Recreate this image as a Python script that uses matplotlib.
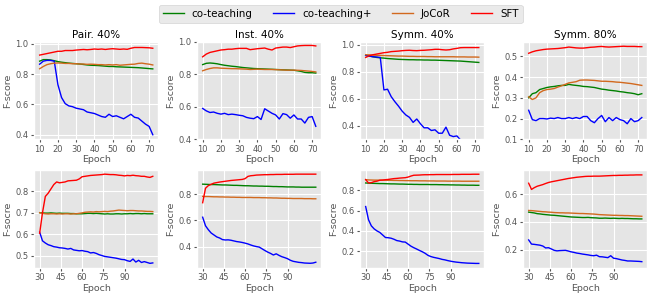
import numpy as np
import matplotlib
matplotlib.use('Agg')
import matplotlib.pyplot as plt

plt.style.use('ggplot')

# epochs
epochs_top = np.arange(10, 73, 2)
epochs_bot = np.arange(30, 111, 2)

methods = ['co-teaching', 'co-teaching+', 'JoCoR', 'SFT']
method_colors = ['green', 'blue', 'chocolate', 'red']

titles_top = ['Pair. 40%', 'Inst. 40%', 'Symm. 40%', 'Symm. 80%']

# ---- top row ----
pair_cot = [0.885, 0.895, 0.895, 0.893, 0.888, 0.882, 0.878, 0.875, 0.872, 0.87, 0.868, 0.866, 0.863, 0.86, 0.858, 0.857,
            0.856, 0.854, 0.852, 0.85, 0.85, 0.848, 0.847, 0.846, 0.845, 0.844, 0.843, 0.842, 0.84, 0.838, 0.836, 0.834]
pair_cotp = [0.865, 0.885, 0.89, 0.89, 0.885, 0.73, 0.645, 0.605, 0.59, 0.585, 0.575, 0.57, 0.565, 0.55, 0.545, 0.54,
             0.53, 0.52, 0.515, 0.535, 0.52, 0.525, 0.515, 0.505, 0.52, 0.535, 0.515, 0.51, 0.49, 0.47, 0.455, 0.40]
pair_jocor = [0.835, 0.85, 0.862, 0.868, 0.872, 0.873, 0.872, 0.87, 0.87, 0.868, 0.868, 0.866, 0.866, 0.864, 0.865, 0.864,
              0.862, 0.862, 0.86, 0.862, 0.86, 0.862, 0.858, 0.86, 0.862, 0.864, 0.865, 0.87, 0.872, 0.868, 0.865, 0.86]
pair_sft = [0.925, 0.93, 0.935, 0.94, 0.945, 0.95, 0.95, 0.955, 0.955, 0.955, 0.958, 0.96, 0.962, 0.96, 0.962, 0.965,
            0.963, 0.965, 0.962, 0.965, 0.967, 0.965, 0.963, 0.965, 0.963, 0.97, 0.975, 0.975, 0.975, 0.974, 0.973, 0.97]

inst_cot = [0.86, 0.868, 0.87, 0.868, 0.865, 0.86, 0.856, 0.853, 0.85, 0.848, 0.845, 0.842, 0.84, 0.838, 0.836, 0.835,
            0.834, 0.833, 0.832, 0.831, 0.83, 0.829, 0.828, 0.827, 0.826, 0.825, 0.822, 0.818, 0.812, 0.81, 0.81, 0.808]
inst_cotp = [0.59, 0.575, 0.565, 0.568, 0.56, 0.555, 0.56, 0.552, 0.555, 0.552, 0.548, 0.545, 0.535, 0.53, 0.527, 0.54,
             0.522, 0.588, 0.574, 0.56, 0.55, 0.525, 0.558, 0.552, 0.53, 0.55, 0.525, 0.525, 0.5, 0.535, 0.54, 0.48]
inst_jocor = [0.822, 0.83, 0.836, 0.84, 0.84, 0.838, 0.837, 0.836, 0.835, 0.835, 0.834, 0.833, 0.832, 0.83, 0.831, 0.832,
              0.831, 0.83, 0.83, 0.83, 0.829, 0.828, 0.827, 0.826, 0.826, 0.826, 0.825, 0.824, 0.822, 0.82, 0.818, 0.815]
inst_sft = [0.908, 0.925, 0.935, 0.94, 0.945, 0.95, 0.952, 0.955, 0.955, 0.958, 0.96, 0.96, 0.96, 0.952, 0.955, 0.958,
            0.96, 0.962, 0.955, 0.95, 0.962, 0.965, 0.968, 0.968, 0.965, 0.97, 0.975, 0.977, 0.978, 0.978, 0.978, 0.975]

sym40_cot = [0.92, 0.915, 0.91, 0.905, 0.902, 0.9, 0.897, 0.895, 0.893, 0.891, 0.89, 0.889, 0.888, 0.888, 0.887, 0.887,
             0.886, 0.886, 0.885, 0.885, 0.884, 0.883, 0.882, 0.881, 0.88, 0.879, 0.878, 0.876, 0.874, 0.872, 0.87, 0.868]
sym40_cotp = [0.92, 0.915, 0.91, 0.908, 0.905, 0.665, 0.67, 0.615, 0.578, 0.545, 0.508, 0.48, 0.462, 0.425, 0.45, 0.415,
              0.385, 0.385, 0.365, 0.37, 0.345, 0.345, 0.39, 0.33, 0.32, 0.325, 0.295, 0.29, 0.285, 0.28, 0.275, 0.27]
sym40_jocor = [0.925, 0.924, 0.922, 0.921, 0.92, 0.919, 0.918, 0.917, 0.916, 0.915, 0.915, 0.914, 0.913, 0.913, 0.912, 0.912,
               0.912, 0.911, 0.911, 0.91, 0.91, 0.91, 0.91, 0.91, 0.91, 0.909, 0.909, 0.909, 0.908, 0.908, 0.908, 0.907]
sym40_sft = [0.905, 0.918, 0.925, 0.93, 0.935, 0.94, 0.943, 0.948, 0.95, 0.952, 0.955, 0.957, 0.958, 0.956, 0.955, 0.957,
             0.958, 0.96, 0.962, 0.965, 0.965, 0.962, 0.96, 0.962, 0.968, 0.972, 0.977, 0.978, 0.978, 0.978, 0.978, 0.978]

sym80_cot = [0.3, 0.32, 0.325, 0.34, 0.345, 0.35, 0.353, 0.355, 0.358, 0.36, 0.36, 0.365, 0.362, 0.36, 0.358, 0.355,
             0.354, 0.352, 0.35, 0.346, 0.342, 0.34, 0.337, 0.335, 0.333, 0.33, 0.328, 0.325, 0.323, 0.32, 0.315, 0.32]
sym80_cotp = [0.24, 0.195, 0.19, 0.2, 0.2, 0.198, 0.202, 0.2, 0.205, 0.2, 0.2, 0.205, 0.2, 0.205, 0.2, 0.21,
              0.21, 0.19, 0.18, 0.2, 0.215, 0.185, 0.205, 0.19, 0.205, 0.195, 0.19, 0.175, 0.2, 0.185, 0.19, 0.205]
sym80_jocor = [0.305, 0.292, 0.3, 0.325, 0.335, 0.34, 0.342, 0.345, 0.352, 0.358, 0.365, 0.372, 0.375, 0.378, 0.385, 0.386,
               0.386, 0.385, 0.384, 0.382, 0.38, 0.38, 0.379, 0.378, 0.376, 0.375, 0.373, 0.371, 0.369, 0.366, 0.363, 0.36]
sym80_sft = [0.515, 0.522, 0.527, 0.53, 0.533, 0.535, 0.536, 0.537, 0.538, 0.54, 0.542, 0.545, 0.543, 0.541, 0.54, 0.54,
             0.542, 0.544, 0.545, 0.547, 0.548, 0.546, 0.545, 0.546, 0.547, 0.548, 0.549, 0.548, 0.548, 0.548, 0.547, 0.547]

# ---- bottom row ----
pair2_cot = [0.70, 0.699, 0.698, 0.698, 0.699, 0.698, 0.697, 0.698, 0.697, 0.697,
             0.697, 0.696, 0.696, 0.695, 0.695, 0.695, 0.696, 0.697, 0.697, 0.696,
             0.697, 0.696, 0.695, 0.694, 0.695, 0.694, 0.694, 0.695, 0.695, 0.694,
             0.695, 0.695, 0.696, 0.695, 0.696, 0.696, 0.695, 0.696, 0.695, 0.695, 0.695]
pair2_cotp = [0.61, 0.57, 0.56, 0.552, 0.548, 0.543, 0.541, 0.538, 0.537, 0.535,
              0.532, 0.535, 0.528, 0.526, 0.524, 0.525, 0.522, 0.52, 0.514, 0.516,
              0.512, 0.506, 0.502, 0.498, 0.496, 0.494, 0.492, 0.49, 0.487, 0.484,
              0.483, 0.478, 0.475, 0.486, 0.472, 0.48, 0.47, 0.474, 0.47, 0.466, 0.468]
pair2_jocor = [0.70, 0.697, 0.695, 0.694, 0.695, 0.695, 0.694, 0.695, 0.694, 0.695,
               0.695, 0.694, 0.695, 0.695, 0.697, 0.699, 0.702, 0.703, 0.704, 0.703,
               0.705, 0.704, 0.705, 0.706, 0.705, 0.707, 0.708, 0.71, 0.712, 0.711,
               0.71, 0.709, 0.71, 0.71, 0.709, 0.708, 0.708, 0.707, 0.706, 0.706, 0.705]
pair2_sft = [0.605, 0.70, 0.775, 0.79, 0.81, 0.83, 0.842, 0.838, 0.84, 0.842,
             0.847, 0.848, 0.849, 0.85, 0.856, 0.866, 0.868, 0.87, 0.872, 0.873,
             0.874, 0.875, 0.876, 0.878, 0.877, 0.876, 0.876, 0.875, 0.873, 0.872,
             0.87, 0.872, 0.871, 0.873, 0.871, 0.87, 0.868, 0.868, 0.865, 0.863, 0.868]

inst2_cot = [0.876, 0.875, 0.874, 0.873, 0.873, 0.872, 0.871, 0.87, 0.87, 0.869,
             0.868, 0.867, 0.867, 0.866, 0.865, 0.864, 0.864, 0.863, 0.862, 0.862,
             0.861, 0.861, 0.86, 0.86, 0.859, 0.858, 0.858, 0.857, 0.857, 0.856,
             0.855, 0.855, 0.855, 0.854, 0.854, 0.853, 0.853, 0.853, 0.853, 0.853, 0.853]
inst2_cotp = [0.625, 0.56, 0.53, 0.505, 0.49, 0.475, 0.467, 0.455, 0.452, 0.453,
              0.45, 0.445, 0.44, 0.437, 0.433, 0.428, 0.422, 0.414, 0.407, 0.402,
              0.398, 0.385, 0.372, 0.36, 0.35, 0.338, 0.347, 0.335, 0.325, 0.318,
              0.31, 0.298, 0.29, 0.286, 0.282, 0.28, 0.277, 0.276, 0.275, 0.277, 0.283]
inst2_jocor = [0.783, 0.782, 0.782, 0.781, 0.78, 0.78, 0.779, 0.779, 0.778, 0.778,
               0.777, 0.777, 0.776, 0.776, 0.775, 0.775, 0.775, 0.775, 0.774, 0.774,
               0.774, 0.773, 0.773, 0.772, 0.772, 0.771, 0.771, 0.77, 0.769, 0.769,
               0.768, 0.768, 0.767, 0.767, 0.767, 0.767, 0.766, 0.766, 0.766, 0.765, 0.765]
inst2_sft = [0.735, 0.845, 0.865, 0.875, 0.884, 0.888, 0.892, 0.895, 0.898, 0.901,
             0.904, 0.906, 0.908, 0.91, 0.912, 0.918, 0.935, 0.94, 0.942, 0.945,
             0.946, 0.947, 0.948, 0.948, 0.949, 0.949, 0.95, 0.95, 0.95, 0.951,
             0.951, 0.951, 0.951, 0.952, 0.952, 0.952, 0.952, 0.952, 0.952, 0.952, 0.952]

sym40b_cot = [0.872, 0.87, 0.869, 0.868, 0.867, 0.866, 0.866, 0.865, 0.864, 0.863,
              0.863, 0.862, 0.861, 0.861, 0.86, 0.859, 0.859, 0.858, 0.858, 0.857,
              0.857, 0.857, 0.857, 0.856, 0.856, 0.856, 0.855, 0.855, 0.854, 0.854,
              0.853, 0.853, 0.852, 0.852, 0.851, 0.851, 0.85, 0.85, 0.85, 0.849, 0.849]
sym40b_cotp = [0.64, 0.51, 0.45, 0.42, 0.4, 0.385, 0.36, 0.335, 0.333, 0.328,
               0.318, 0.305, 0.3, 0.292, 0.29, 0.27, 0.25, 0.235, 0.222, 0.208,
               0.195, 0.18, 0.16, 0.148, 0.14, 0.134, 0.128, 0.12, 0.115, 0.108,
               0.102, 0.097, 0.093, 0.09, 0.087, 0.085, 0.083, 0.082, 0.081, 0.08, 0.08]
sym40b_jocor = [0.905, 0.902, 0.901, 0.9, 0.9, 0.9, 0.899, 0.899, 0.898, 0.898,
                0.897, 0.897, 0.896, 0.896, 0.895, 0.895, 0.894, 0.894, 0.894, 0.893,
                0.893, 0.893, 0.892, 0.892, 0.892, 0.891, 0.891, 0.891, 0.891, 0.89,
                0.89, 0.89, 0.89, 0.89, 0.889, 0.889, 0.889, 0.889, 0.889, 0.889, 0.889]
sym40b_sft = [0.905, 0.872, 0.875, 0.885, 0.89, 0.899, 0.901, 0.904, 0.907, 0.911,
              0.915, 0.917, 0.92, 0.922, 0.924, 0.93, 0.94, 0.948, 0.949, 0.95,
              0.952, 0.953, 0.953, 0.954, 0.954, 0.955, 0.955, 0.955, 0.955, 0.955,
              0.955, 0.956, 0.956, 0.956, 0.957, 0.957, 0.957, 0.957, 0.958, 0.958, 0.958]

sym80b_cot = [0.471, 0.468, 0.465, 0.46, 0.458, 0.455, 0.453, 0.451, 0.449, 0.448,
              0.446, 0.444, 0.442, 0.44, 0.438, 0.436, 0.435, 0.434, 0.433, 0.432,
              0.432, 0.433, 0.431, 0.43, 0.429, 0.427, 0.427, 0.428, 0.427, 0.426,
              0.427, 0.426, 0.425, 0.426, 0.425, 0.425, 0.424, 0.423, 0.423, 0.422, 0.422]
sym80b_cotp = [0.27, 0.24, 0.238, 0.235, 0.232, 0.226, 0.212, 0.214, 0.205, 0.195,
               0.191, 0.193, 0.194, 0.195, 0.19, 0.184, 0.18, 0.175, 0.172, 0.168,
               0.165, 0.162, 0.158, 0.156, 0.16, 0.149, 0.148, 0.145, 0.142, 0.156,
               0.138, 0.135, 0.13, 0.125, 0.122, 0.118, 0.118, 0.117, 0.116, 0.115, 0.113]
sym80b_jocor = [0.483, 0.482, 0.48, 0.478, 0.476, 0.474, 0.473, 0.471, 0.47, 0.468,
                0.467, 0.466, 0.466, 0.465, 0.465, 0.464, 0.463, 0.462, 0.461, 0.461,
                0.46, 0.459, 0.458, 0.457, 0.455, 0.453, 0.452, 0.451, 0.45, 0.449,
                0.448, 0.448, 0.447, 0.447, 0.446, 0.446, 0.445, 0.444, 0.443, 0.442, 0.441]
sym80b_sft = [0.68, 0.635, 0.648, 0.658, 0.664, 0.67, 0.678, 0.685, 0.69, 0.694,
              0.698, 0.702, 0.706, 0.71, 0.714, 0.717, 0.72, 0.723, 0.725, 0.727,
              0.729, 0.73, 0.73, 0.731, 0.731, 0.731, 0.732, 0.733, 0.734, 0.735,
              0.736, 0.736, 0.737, 0.737, 0.738, 0.738, 0.739, 0.739, 0.74, 0.74, 0.74]

top_panels = [
    [pair_cot, pair_cotp, pair_jocor, pair_sft],
    [inst_cot, inst_cotp, inst_jocor, inst_sft],
    [sym40_cot, sym40_cotp, sym40_jocor, sym40_sft],
    [sym80_cot, sym80_cotp, sym80_jocor, sym80_sft],
]
bot_panels = [
    [pair2_cot, pair2_cotp, pair2_jocor, pair2_sft],
    [inst2_cot, inst2_cotp, inst2_jocor, inst2_sft],
    [sym40b_cot, sym40b_cotp, sym40b_jocor, sym40b_sft],
    [sym80b_cot, sym80b_cotp, sym80b_jocor, sym80b_sft],
]
top_ylims = [(0.37, 1.012), (0.4, 1.0), (0.3, 1.02), (0.1, 0.57)]
top_yticks = [[0.4, 0.6, 0.8, 1.0], [0.4, 0.6, 0.8, 1.0], [0.4, 0.6, 0.8, 1.0], [0.1, 0.2, 0.3, 0.4, 0.5]]
bot_ylims = [(0.445, 0.895), (0.24, 0.98), (0.036, 0.995), (0.068, 0.772)]
bot_yticks = [[0.5, 0.6, 0.7, 0.8], [0.4, 0.6, 0.8], [0.2, 0.4, 0.6, 0.8], [0.2, 0.4, 0.6]]


def style_axis(ax, ylabel):
    ax.set_xlabel('Epoch', fontsize=6.8, labelpad=1)
    ax.set_ylabel(ylabel, fontsize=6.8, labelpad=2)
    ax.tick_params(labelsize=6, length=2.5, pad=1.5)


fig, axes = plt.subplots(2, 4, figsize=(6.54, 2.97), dpi=100)
fig.subplots_adjust(left=0.052, right=0.99, top=0.859, bottom=0.098, wspace=0.31, hspace=0.32)

for i in range(4):
    ax = axes[0, i]
    for series, name, c in zip(top_panels[i], methods, method_colors):
        ax.plot(epochs_top, series, color=c, lw=1.0, label=name)
    ax.set_ylim(top_ylims[i])
    ax.set_yticks(top_yticks[i])
    ax.set_xticks([10, 20, 30, 40, 50, 60, 70])
    ax.set_title(titles_top[i], fontsize=7.5, pad=3)
    style_axis(ax, 'F-score')

    ax = axes[1, i]
    for series, name, c in zip(bot_panels[i], methods, method_colors):
        ax.plot(epochs_bot, series, color=c, lw=1.0, label=name)
    ax.set_ylim(bot_ylims[i])
    ax.set_yticks(bot_yticks[i])
    ax.set_xticks([30, 45, 60, 75, 90])
    style_axis(ax, 'F-socre')

handles, labels = axes[0, 0].get_legend_handles_labels()
fig.legend(handles, labels, loc='center', bbox_to_anchor=(0.521, 0.953), ncol=4,
           fontsize=7.4, frameon=True, borderpad=0.4)

fig.savefig('out.png', dpi=100)
